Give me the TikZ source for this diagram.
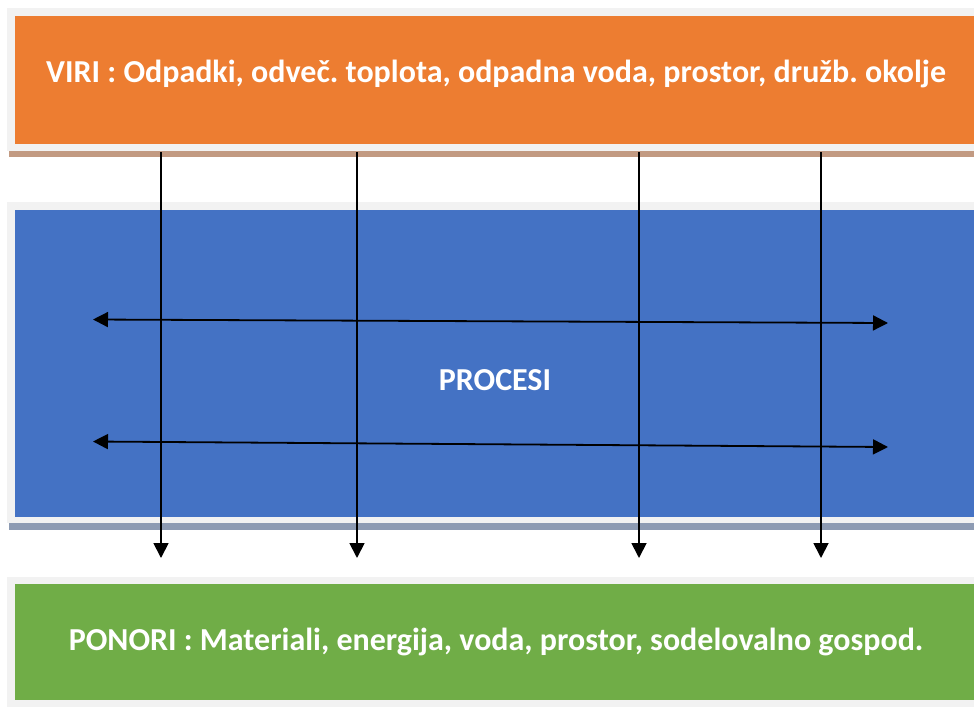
\documentclass[tikz,border=0pt]{standalone}
\usepackage{fontspec}
\setmainfont{Carlito}
\frenchspacing
\usetikzlibrary{arrows.meta}
\definecolor{orng}{HTML}{ED7D31}
\definecolor{blu}{HTML}{4472C4}
\definecolor{grn}{HTML}{70AD47}
\definecolor{framegray}{HTML}{F2F2F2}
\definecolor{brownbar}{HTML}{C29A82}
\definecolor{bluebar}{HTML}{8D9BB3}
\tikzset{
  box/.style={inner sep=0pt, outer sep=0pt, draw=none},
  lbl/.style={text=white, font=\bfseries\fontsize{32}{38}\selectfont, inner sep=0pt},
  flow/.style={line width=1.8pt, -{Triangle[length=15pt,width=15pt]}},
  both/.style={line width=1.8pt, {Triangle[length=15pt,width=15pt]}-{Triangle[length=15pt,width=15pt]}}
}
\begin{document}
\begin{tikzpicture}[x=1pt,y=-1pt]
\useasboundingbox (0,0) rectangle (974,707);
\clip (0,0) rectangle (974,707);
% frames and bars
\fill[framegray] (7,8) rectangle (985,151);
\fill[brownbar] (9,151) rectangle (985,157);
\fill[framegray] (7,202) rectangle (985,523);
\fill[bluebar] (9,523) rectangle (985,530);
\fill[framegray] (7,577) rectangle (985,707);
% boxes
\node[box, fill=orng, minimum width=962pt, minimum height=128pt] (viri) at (496,80) {};
\node[box, fill=blu, minimum width=962pt, minimum height=307pt] (procesi) at (496,363.5) {};
\node[box, fill=grn, minimum width=962pt, minimum height=116pt] (ponori) at (496,642) {};
% texts
\node[lbl, anchor=base] (viritxt) at (496,82) {VIRI : Odpadki, odveč. toplota, odpadna voda, prostor, družb. okolje};
\node[lbl, anchor=base] (proctxt) at (495,390) {PROCESI};
\node[lbl, anchor=base] (ponotxt) at (496,650) {PONORI : Materiali, energija, voda, prostor, sodelovalno gospod.};
% vertical arrows
\coordinate (s1) at (161,152); \coordinate (e1) at (161,558);
\coordinate (s2) at (357,152); \coordinate (e2) at (357,558);
\coordinate (s3) at (639,152); \coordinate (e3) at (639,558);
\coordinate (s4) at (821,152); \coordinate (e4) at (821,558);
\draw[flow] (s1) -- (e1);
\draw[flow] (s2) -- (e2);
\draw[flow] (s3) -- (e3);
\draw[flow] (s4) -- (e4);
% horizontal double arrows
\coordinate (h1l) at (93,319.5); \coordinate (h1r) at (888,323);
\coordinate (h2l) at (93,441.5); \coordinate (h2r) at (888,447);
\draw[both] (h1l) -- (h1r);
\draw[both] (h2l) -- (h2r);
\end{tikzpicture}
\end{document}
